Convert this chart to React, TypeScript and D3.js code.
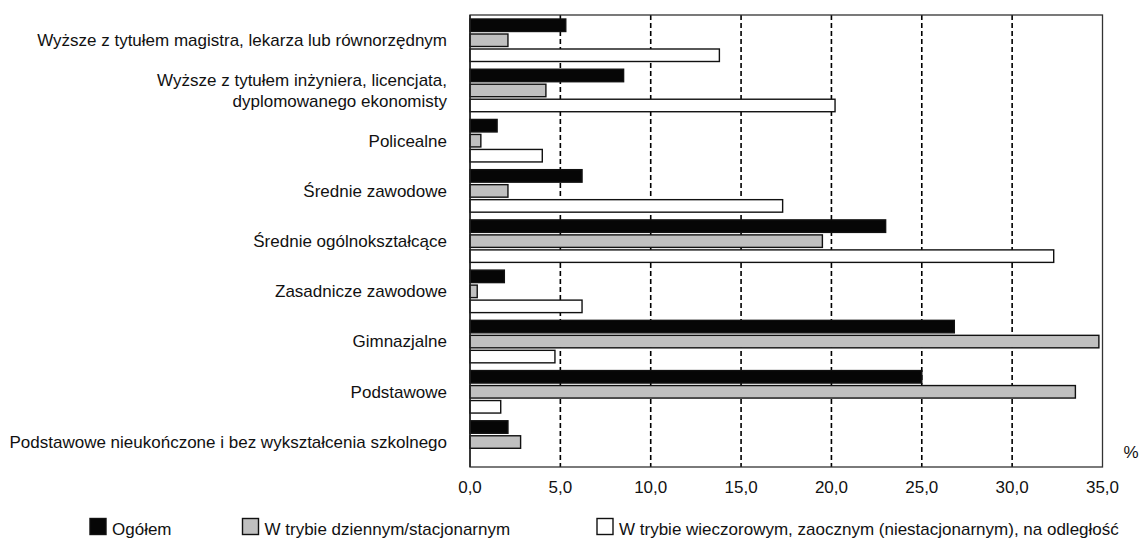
import React from "react";
import * as d3 from "d3";

const categories: string[][] = [
  ["Wyższe z tytułem magistra, lekarza lub równorzędnym"],
  ["Wyższe z tytułem inżyniera, licencjata,", "dyplomowanego ekonomisty"],
  ["Policealne"],
  ["Średnie zawodowe"],
  ["Średnie ogólnokształcące"],
  ["Zasadnicze zawodowe"],
  ["Gimnazjalne"],
  ["Podstawowe"],
  ["Podstawowe nieukończone i bez wykształcenia szkolnego"],
];

const ogolem = [5.3, 8.5, 1.5, 6.2, 23.0, 1.9, 26.8, 25.0, 2.1];
const dzienne = [2.1, 4.2, 0.6, 2.1, 19.5, 0.4, 34.8, 33.5, 2.8];
const wieczorowe = [13.8, 20.2, 4.0, 17.3, 32.3, 6.2, 4.7, 1.7, 0.0];

const seriesNames = [
  "Ogółem",
  "W trybie dziennym/stacjonarnym",
  "W trybie wieczorowym, zaocznym (niestacjonarnym), na odległość",
];
const seriesColors = ["#060606", "#c0c0c0", "#ffffff"];
const xTicks = [0, 5, 10, 15, 20, 25, 30, 35];

const W = 1140;
const H = 540;
const m = { left: 470, right: 1102.5, top: 15, bottom: 467 };
const FONT = '"Liberation Sans", Arial, sans-serif';

export default function App() {
  const x = d3.scaleLinear().domain([0, 35]).range([m.left, m.right]);
  const y = d3
    .scaleBand<number>()
    .domain(d3.range(categories.length))
    .range([m.top, m.bottom])
    .paddingInner(0)
    .paddingOuter(0);
  const bw = y.bandwidth();
  const barH = 12.5;
  const gap = 2.5;
  const groupOffset = 4;
  const series = [ogolem, dzienne, wieczorowe];
  const legendX = [90, 242.5, 597];
  const tsLabel = { fontFamily: FONT, fontSize: 17, fill: "#111" } as React.CSSProperties;
  const tsTick = { fontFamily: FONT, fontSize: 17, fill: "#111" } as React.CSSProperties;
  const tsLegend = { fontFamily: FONT, fontSize: 17, fill: "#111" } as React.CSSProperties;

  return (
    <svg
      width={W}
      height={H}
      style={{ position: "absolute", left: 0, top: 0, background: "#fff" }}
    >
      <rect x={0} y={0} width={W} height={H} fill="#fff" />
      {xTicks.slice(1, -1).map((t) => (
        <line
          key={t}
          x1={x(t)}
          x2={x(t)}
          y1={m.top}
          y2={m.bottom}
          stroke="#000"
          strokeWidth={1.6}
          strokeDasharray="5,3"
        />
      ))}
      <rect
        x={m.left}
        y={m.top}
        width={m.right - m.left}
        height={m.bottom - m.top}
        fill="none"
        stroke="#333"
        strokeWidth={1.3}
      />
      {categories.map((_, i) =>
        series.map((s, k) =>
          s[i] > 0 ? (
            <rect
              key={`${i}-${k}`}
              x={x(0)}
              y={(y(i) as number) + groupOffset + k * (barH + gap)}
              width={x(s[i]) - x(0)}
              height={barH}
              fill={seriesColors[k]}
              stroke="#111"
              strokeWidth={1.4}
            />
          ) : null
        )
      )}
      <line x1={m.left} x2={m.left} y1={m.top} y2={m.bottom} stroke="#222" strokeWidth={1.5} />
      {categories.map((lines, i) => {
        const cy = (y(i) as number) + bw / 2;
        const lh = 21;
        const start = cy - ((lines.length - 1) * lh) / 2;
        return (
          <text key={i} x={447} textAnchor="end" style={tsLabel}>
            {lines.map((l, j) => (
              <tspan key={j} x={447} y={start + j * lh} dy="0.35em">
                {l}
              </tspan>
            ))}
          </text>
        );
      })}
      {xTicks.map((t) => (
        <text key={t} x={x(t)} y={487} dy="0.35em" textAnchor="middle" style={tsTick}>
          {d3.format(".1f")(t).replace(".", ",")}
        </text>
      ))}
      <text x={1131} y={452} dy="0.35em" textAnchor="middle" style={tsTick}>
        %
      </text>
      {seriesNames.map((n, k) => (
        <g key={n}>
          <rect
            x={legendX[k]}
            y={518.5}
            width={16}
            height={16}
            fill={seriesColors[k]}
            stroke="#111"
            strokeWidth={1.4}
          />
          <text x={legendX[k] + 22} y={535} style={tsLegend}>
            {n}
          </text>
        </g>
      ))}
    </svg>
  );
}
